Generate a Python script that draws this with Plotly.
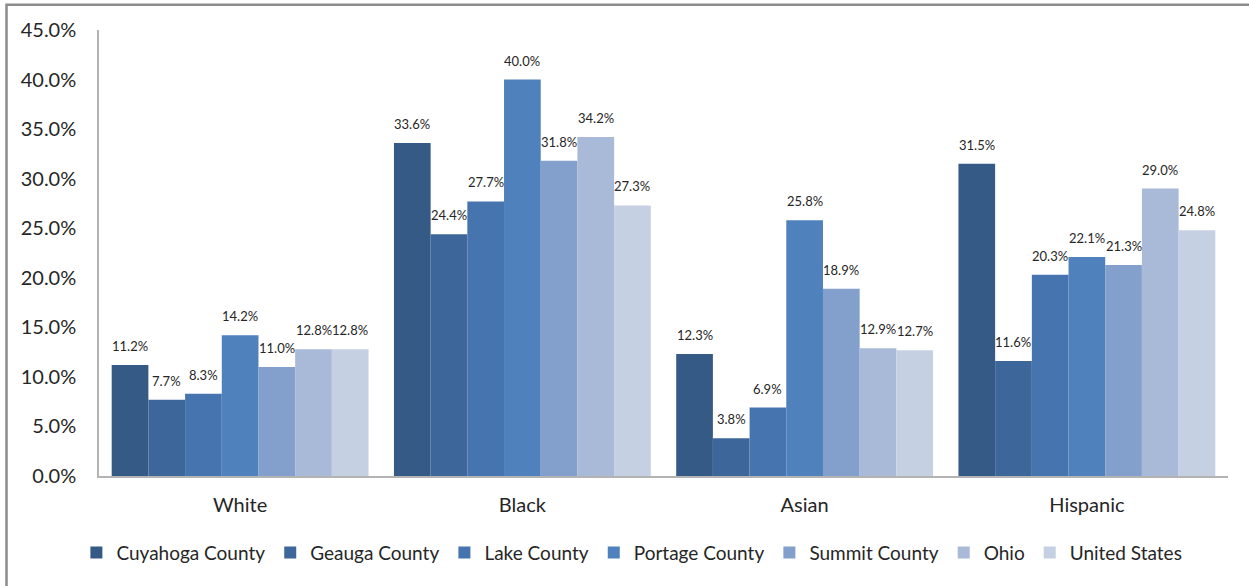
import plotly.graph_objects as go

categories = ["White", "Black", "Asian", "Hispanic"]
series_names = ["Cuyahoga County", "Geauga County", "Lake County", "Portage County",
                "Summit County", "Ohio", "United States"]
cuyahoga = [11.2, 33.6, 12.3, 31.5]
geauga = [7.7, 24.4, 3.8, 11.6]
lake = [8.3, 27.7, 6.9, 20.3]
portage = [14.2, 40.0, 25.8, 22.1]
summit = [11.0, 31.8, 18.9, 21.3]
ohio = [12.8, 34.2, 12.9, 29.0]
united_states = [12.8, 27.3, 12.7, 24.8]
series_values = [cuyahoga, geauga, lake, portage, summit, ohio, united_states]
colors = ["#365a86", "#3d669a", "#4574ae", "#4f81bd", "#839fcb", "#a9b9d8", "#c6d0e3"]
y_ticks = [0, 5, 10, 15, 20, 25, 30, 35, 40, 45]

W, H = 1249, 586
ml, mr, mt = 99, 21, 30
ph = 446
mb = H - mt - ph
pw = W - ml - mr
bargap = 0.09
FONT = "Lato, Liberation Sans, sans-serif"

fig = go.Figure()
for name, vals, col in zip(series_names, series_values, colors):
    fig.add_trace(go.Bar(
        name=name, x=categories, y=vals,
        marker=dict(color=col, line=dict(width=0)),
        hoverinfo="skip",
    ))

cat_w = pw / len(categories)
bw = cat_w * (1 - bargap) / len(series_names)
annotations = []
for i, vals in enumerate(series_values):
    for c, v in zip(categories, vals):
        annotations.append(dict(
            x=c, y=v, xref="x", yref="y", text=f"{v:.1f}%",
            showarrow=False, xshift=(i - 3) * bw, yshift=9, yanchor="bottom",
            font=dict(family=FONT, size=13, color="#262626"),
        ))

fig.update_layout(
    width=W, height=H,
    margin=dict(l=ml, r=mr, t=mt, b=mb, autoexpand=False),
    paper_bgcolor="white", plot_bgcolor="white",
    barmode="group", bargap=bargap, bargroupgap=0,
    showlegend=True,
    legend=dict(orientation="h", x=0.472, xanchor="center", y=-0.172, yanchor="middle",
                font=dict(family=FONT, size=19, color="#262626"),
                traceorder="normal", itemwidth=30, tracegroupgap=0),
    annotations=annotations,
    font=dict(family=FONT, color="#262626"),
    shapes=[dict(type="rect", xref="paper", yref="paper",
                 x0=(6.5 - ml) / pw, x1=(W + 10 - ml) / pw,
                 y0=-(H + 10 - (mt + ph)) / ph, y1=(mt + ph - 4.7) / ph,
                 line=dict(color="#8c8c8c", width=2.5), layer="below")],
)
fig.update_xaxes(
    showline=True, linecolor="#b3b3b3", linewidth=1.5, showgrid=False,
    ticks="outside", ticklen=10, tickcolor="rgba(0,0,0,0)",
    tickfont=dict(family=FONT, size=20, color="#262626"),
)
fig.update_yaxes(
    range=[0, 45], tickvals=y_ticks, ticktext=[f"{t:.1f}%" for t in y_ticks],
    showline=True, linecolor="#b3b3b3", linewidth=1.5, showgrid=False, zeroline=False,
    ticks="outside", ticklen=17, tickcolor="rgba(0,0,0,0)",
    tickfont=dict(family=FONT, size=20, color="#262626"),
)

fig.write_html("out.html", config={"displayModeBar": False},
               post_script="document.body.style.margin='0';")
